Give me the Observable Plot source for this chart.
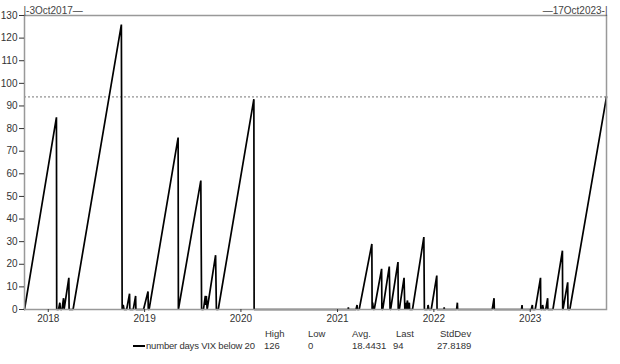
<!DOCTYPE html>
<html>
<head>
<meta charset="utf-8">
<script src="https://cdn.jsdelivr.net/npm/d3@7"></script>
<script src="https://cdn.jsdelivr.net/npm/@observablehq/plot@0.6"></script>
<style>
  html, body { margin: 0; padding: 0; background: #fff; }
  #wrap { position: relative; width: 620px; height: 364px; font-family: "Liberation Sans", Arial, sans-serif; color: #333; }
  .lg { position: absolute; font-size: 9.5px; line-height: 12px; white-space: nowrap; color: #333; }
</style>
</head>
<body>
<div id="wrap"></div>
<script>
const dates = [
"2017-10-03","2018-02-01","2018-02-02","2018-02-09","2018-02-14","2018-02-16","2018-02-22","2018-02-28","2018-03-02","2018-03-20",
"2018-03-21","2018-04-05","2018-10-05","2018-10-08","2018-10-12","2018-10-15","2018-10-25","2018-11-05","2018-11-06","2018-11-19",
"2018-11-28","2018-11-29","2018-12-28","2019-01-14","2019-01-15","2019-01-18","2019-05-08","2019-05-09","2019-08-02","2019-08-05",
"2019-08-12","2019-08-19","2019-08-20","2019-08-23","2019-08-26","2019-09-27","2019-09-30","2019-10-07","2020-02-19","2020-02-20",
"2021-02-10","2021-02-11","2021-02-12","2021-03-12","2021-03-16","2021-03-17","2021-03-24","2021-05-11","2021-05-12","2021-05-14",
"2021-05-17","2021-05-20","2021-06-17","2021-06-18","2021-06-21","2021-07-16","2021-07-19","2021-07-21","2021-08-18","2021-08-19",
"2021-08-23","2021-09-10","2021-09-13","2021-09-15","2021-09-17","2021-09-23","2021-09-24","2021-09-30","2021-10-01","2021-10-12",
"2021-11-24","2021-11-26","2021-12-08","2021-12-10","2021-12-13","2021-12-22","2022-01-12","2022-01-13","2022-02-08","2022-02-09",
"2022-02-10","2022-03-28","2022-03-31","2022-04-01","2022-08-10","2022-08-17","2022-08-18","2022-11-29","2022-12-01","2022-12-02",
"2023-01-05","2023-01-09","2023-01-10","2023-01-20","2023-02-09","2023-02-10","2023-02-16","2023-02-17","2023-02-20","2023-03-01",
"2023-03-08","2023-03-09","2023-03-28","2023-05-03","2023-05-04","2023-05-05","2023-05-23","2023-05-24","2023-05-31","2023-10-17"
];
const daysBelow20 = [
0,85,0,0,3,0,0,5,0,14,
0,0,126,0,2,0,0,7,0,0,
6,0,0,8,0,0,76,0,57,0,
0,6,2,6,0,24,0,0,93,0,
0,1,0,0,2,0,0,29,0,3,
0,0,18,0,0,19,0,0,21,0,
0,14,0,3,0,4,0,3,0,0,
32,0,0,2,0,0,15,0,0,1,
0,0,3,0,0,5,0,0,2,0,
0,2,0,0,14,0,0,2,0,0,
5,0,0,26,0,0,12,0,0,94
];
const yTicks = [0,10,20,30,40,50,60,70,80,90,100,110,120,130];
const xTickYears = ["2018","2019","2020","2021","2022","2023"];
const rangeLabels = ["|-3Oct2017\u2014", "\u201417Oct2023-|"];
const seriesName = "number days VIX below 20";
const statNames = ["High","Low","Avg.","Last","StdDev"];
const statValues = ["126","0","18.4431","94","27.8189"];
const lastValue = 94;

const parse = d3.utcParse("%Y-%m-%d");
const data = dates.map((d, i) => ({date: parse(d), value: daysBelow20[i]}));
const startDate = data[0].date, endDate = data[data.length - 1].date;
const xTicks = xTickYears.map(y => parse(y + "-01-01"));

const chart = Plot.plot({
  width: 620,
  height: 326,
  marginLeft: 24,
  marginRight: 14,
  marginTop: 15,
  marginBottom: 17,
  style: {fontFamily: "Liberation Sans, Arial, sans-serif", fontSize: "10px", color: "#333", background: "#fff"},
  x: {type: "utc", domain: [startDate, endDate]},
  y: {domain: [0, 130]},
  marks: [
    Plot.ruleY([lastValue], {stroke: "#777", strokeDasharray: "2,2", strokeWidth: 1}),
    Plot.line(data, {x: "date", y: "value", stroke: "#000", strokeWidth: 1.7, strokeLinejoin: "miter"}),
    Plot.frame({stroke: "#999", strokeWidth: 1.5}),
    Plot.axisY({ticks: yTicks, tickSize: 5, tickPadding: 2, label: null, fontSize: 10}),
    Plot.axisX({ticks: xTicks, tickFormat: d3.utcFormat("%Y"), tickSize: 3, tickPadding: 2, label: null, fontSize: 10}),
    Plot.text([{d: startDate, t: rangeLabels[0]}], {x: "d", text: "t", frameAnchor: "top", textAnchor: "start", dy: -9, dx: -1, fontSize: 10, fill: "#444"}),
    Plot.text([{d: endDate, t: rangeLabels[1]}], {x: "d", text: "t", frameAnchor: "top", textAnchor: "end", dy: -9, dx: 1, fontSize: 10, fill: "#444"})
  ]
});

const wrap = document.getElementById("wrap");
chart.style.position = "absolute";
chart.style.left = "0px";
chart.style.top = "0px";
wrap.appendChild(chart);

function addDiv(cls, text, left, top, extra) {
  const el = document.createElement("div");
  el.className = cls;
  el.textContent = text;
  el.style.left = left + "px";
  el.style.top = top + "px";
  if (extra) Object.assign(el.style, extra);
  wrap.appendChild(el);
  return el;
}
// legend swatch
addDiv("lg", "", 133, 345, {width: "12px", height: "0px", borderTop: "2px solid #000"});
addDiv("lg", seriesName, 146, 340, {letterSpacing: "-0.2px"});
const headLeft = [265, 308, 352, 396, 440];
const valLeft = [264, 308, 352, 393, 437];
statNames.forEach((s, i) => addDiv("lg", s, headLeft[i], 328));
statValues.forEach((s, i) => addDiv("lg", s, valLeft[i], 340));
</script>
</body>
</html>
